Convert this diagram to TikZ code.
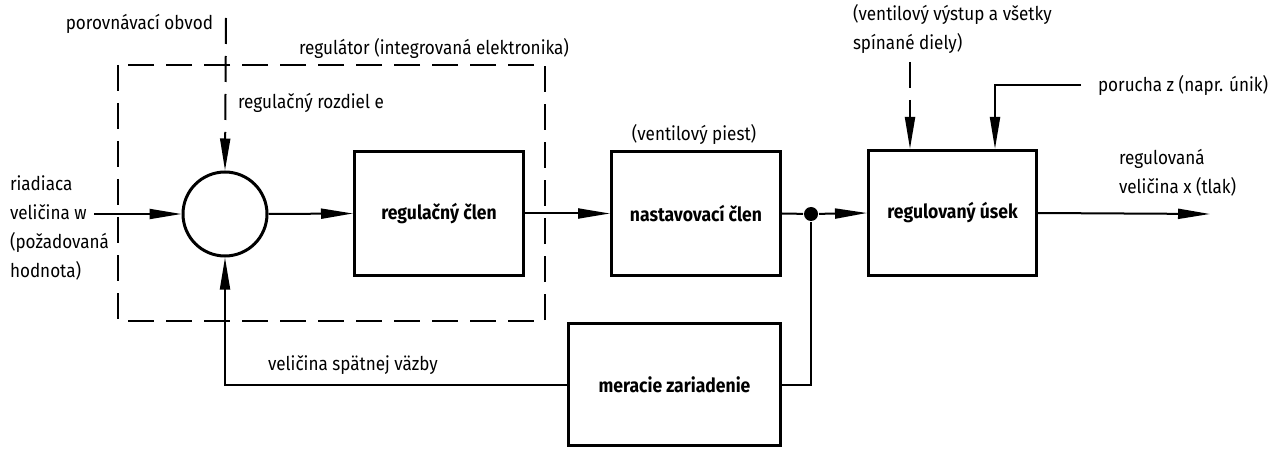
\documentclass[tikz,border=0pt]{standalone}
\usepackage{fontspec}
\setmainfont{Fira Sans}[FakeStretch=0.9]
\usetikzlibrary{arrows.meta,positioning}
\tikzset{
  block/.style={draw, rectangle, line width=3pt, font=\fontsize{19.5}{22}\selectfont\bfseries},
  lbl/.style={inner sep=0pt, font=\fontsize{19}{29}\selectfont, align=left},
  dashline/.style={dash pattern=on 26pt off 12pt},
}
\begin{document}
\begin{tikzpicture}[x=1pt, y=-1pt, line width=2pt, >={Triangle[length=32pt,width=10pt]}]
    \useasboundingbox (0,0) rectangle (1282,449);
    \draw[dashline] (118,65) rectangle (545,321);
    \node[lbl, anchor=west] (regtext) at (298,48) {regulátor (integrovaná elektronika)};

    \node[draw, circle, line width=3pt, minimum size=84pt, inner sep=0pt] (comp) at (225,214) {};
    \node[block, minimum width=169pt, minimum height=124pt] (ctrl) at (439,213.5) {regulačný člen};
    \node[block, minimum width=169pt, minimum height=124pt] (actuator) at (696,213.5) {nastavovací člen};
    \node[block, minimum width=168pt, minimum height=125pt] (plant) at (952.5,213) {regulovaný úsek};
    \node[block, minimum width=212pt, minimum height=122pt] (sensor) at (674.5,384.5) {meracie zariadenie};
    \node[circle, fill, inner sep=0pt, minimum size=14pt] (branch) at (811,214) {};

    \node[lbl, anchor=east] (cmptext) at (214,24) {porovnávací obvod};
    \coordinate (cmptop) at (226,18);
    \draw[->, dashline] (cmptop) -- (comp.north);
    \node[lbl, anchor=west] (difftext) at (237,103) {regulačný rozdiel e};

    \node[lbl, anchor=west] (wtext) at (9,228) {riadiaca\\veličina w\\(požadovaná\\hodnota)};
    \coordinate (win) at (94,214);
    \draw[->] (win) -- (comp.west);
    \draw[->] (comp.east) -- (ctrl.west);
    \draw[->] (ctrl.east) -- (actuator.west);
    \draw (actuator.east) -- (branch);
    \draw[->] (branch) -- (plant.west);

    \node[lbl] (piesttext) at (694,134) {(ventilový piest)};
    \node[lbl, anchor=west] (valvetext) at (852,29) {(ventilový výstup a všetky\\spínané diely)};
    \coordinate (valvetop) at (910,62);
    \draw[->, dashline] (valvetop) -- (valvetop |- plant.north);

    \node[lbl, anchor=west] (ztext) at (1097,85) {porucha z (napr. únik)};
    \coordinate (zin) at (1081,85);
    \coordinate (zdrop) at (995,85);
    \draw[->] (zin) -- (zdrop) -- (zdrop |- plant.north);

    \coordinate (xout) at (1210,214);
    \draw[->] (plant.east) -- (xout);
    \node[lbl, anchor=west] (xtext) at (1118,173) {regulovaná\\veličina x (tlak)};

    \draw (branch) |- (sensor.east);
    \draw[->] (sensor.west) -| (comp.south);
    \node[lbl, anchor=west] (fbtext) at (267,365) {veličina spätnej väzby};
\end{tikzpicture}
\end{document}
